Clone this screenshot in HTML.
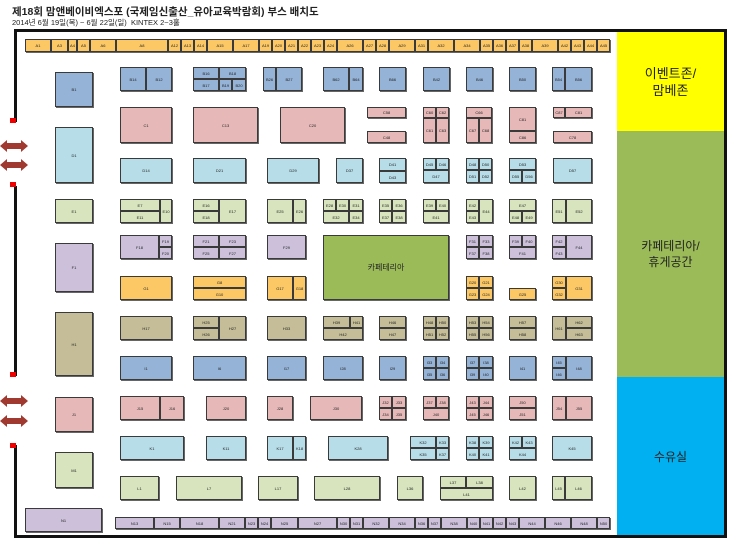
<!DOCTYPE html>
<html><head><meta charset="utf-8"><style>
body{margin:0;width:740px;height:548px;background:#fff;position:relative;overflow:hidden;font-family:"Liberation Sans","Noto Sans CJK KR",sans-serif}
div{position:absolute;box-sizing:border-box}
.b{border:1px solid #3a3a3a;box-shadow:1px 1px 0 #666;font-size:4px;line-height:5px;color:#222;display:flex;align-items:center;justify-content:center;text-align:center;overflow:hidden}
.bl{background:#95b3d7}.pk{background:#e6b9b8}.lb{background:#b7dde8}.lg{background:#d7e4bd}.lv{background:#ccc0da}.or{background:#fcc865}.kh{background:#c4bd97}
.ln{background:#111}.rd{background:#e00}
.ar{width:28px;height:13px}
</style></head><body>
<div style="left:12px;top:4px;font-size:10.5px;font-weight:bold;color:#222;white-space:nowrap">제18회 맘앤베이비엑스포 (국제임신출산_유아교육박람회) 부스 배치도</div>
<div style="left:12px;top:17px;font-size:7.5px;color:#222;white-space:nowrap">2014년 6월 19일(목) ~ 6월 22일(일) &nbsp;KINTEX 2~3홀</div>

<!-- frame -->
<div class="ln" style="left:14px;top:29px;width:712px;height:3px"></div>
<div class="ln" style="left:724px;top:29px;width:3px;height:509px"></div>
<div class="ln" style="left:14px;top:29px;width:3px;height:93px"></div>
<div class="rd" style="left:10px;top:118px;width:6px;height:5px"></div>
<div class="ln" style="left:14px;top:186px;width:3px;height:190px"></div>
<div class="rd" style="left:10px;top:182px;width:6px;height:5px"></div>
<div class="rd" style="left:10px;top:372px;width:6px;height:5px"></div>
<div class="ln" style="left:14px;top:445px;width:3px;height:93px"></div>
<div class="rd" style="left:10px;top:443px;width:6px;height:5px"></div>
<div class="ln" style="left:14px;top:535px;width:713px;height:3px"></div>
<svg style="position:absolute;left:0;top:0" width="30" height="548">
<g fill="#a0392f"><polygon points="0,146 7,140 7,143 21,143 21,140 28,146 21,152 21,149 7,149 7,152"/>
<polygon points="0,165 7,159 7,162 21,162 21,159 28,165 21,171 21,168 7,168 7,171"/>
<polygon points="0,401 7,395 7,398 21,398 21,395 28,401 21,407 21,404 7,404 7,407"/>
<polygon points="0,421 7,415 7,418 21,418 21,415 28,421 21,427 21,424 7,424 7,427"/></g></svg>

<!-- right zones -->
<div style="left:617px;top:32px;width:107px;height:99px;background:#ffff00;display:flex;align-items:center;justify-content:center;text-align:center;font-size:13px;line-height:17px;color:#222">이벤트존/<br>맘베존</div>
<div style="left:617px;top:131px;width:107px;height:246px;background:#9bbb59;display:flex;align-items:center;justify-content:center;text-align:center;font-size:12px;line-height:16px;color:#222">카페테리아/<br>휴게공간</div>
<div style="left:617px;top:377px;width:107px;height:158px;background:#00b0f0;display:flex;align-items:center;justify-content:center;font-size:12px;color:#222">수유실</div>

<!-- top A row -->
<div class="b or" style="left:25px;top:39px;width:26px;height:13px">A1</div>
<div class="b or" style="left:51px;top:39px;width:17px;height:13px">A3</div>
<div class="b or" style="left:68px;top:39px;width:9px;height:13px">A4</div>
<div class="b or" style="left:77px;top:39px;width:13px;height:13px">A5</div>
<div class="b or" style="left:90px;top:39px;width:26px;height:13px">A6</div>
<div class="b or" style="left:116px;top:39px;width:52px;height:13px">A8</div>
<div class="b or" style="left:168px;top:39px;width:13px;height:13px">A12</div>
<div class="b or" style="left:181px;top:39px;width:13px;height:13px">A13</div>
<div class="b or" style="left:194px;top:39px;width:13px;height:13px">A14</div>
<div class="b or" style="left:207px;top:39px;width:26px;height:13px">A15</div>
<div class="b or" style="left:233px;top:39px;width:26px;height:13px">A17</div>
<div class="b or" style="left:259px;top:39px;width:13px;height:13px">A19</div>
<div class="b or" style="left:272px;top:39px;width:13px;height:13px">A20</div>
<div class="b or" style="left:285px;top:39px;width:13px;height:13px">A21</div>
<div class="b or" style="left:298px;top:39px;width:13px;height:13px">A22</div>
<div class="b or" style="left:311px;top:39px;width:13px;height:13px">A23</div>
<div class="b or" style="left:324px;top:39px;width:13px;height:13px">A24</div>
<div class="b or" style="left:337px;top:39px;width:26px;height:13px">A26</div>
<div class="b or" style="left:363px;top:39px;width:13px;height:13px">A27</div>
<div class="b or" style="left:376px;top:39px;width:13px;height:13px">A28</div>
<div class="b or" style="left:389px;top:39px;width:26px;height:13px">A29</div>
<div class="b or" style="left:415px;top:39px;width:13px;height:13px">A31</div>
<div class="b or" style="left:428px;top:39px;width:26px;height:13px">A32</div>
<div class="b or" style="left:454px;top:39px;width:26px;height:13px">A34</div>
<div class="b or" style="left:480px;top:39px;width:13px;height:13px">A35</div>
<div class="b or" style="left:493px;top:39px;width:13px;height:13px">A36</div>
<div class="b or" style="left:506px;top:39px;width:13px;height:13px">A37</div>
<div class="b or" style="left:519px;top:39px;width:13px;height:13px">A38</div>
<div class="b or" style="left:532px;top:39px;width:26px;height:13px">A39</div>
<div class="b or" style="left:558px;top:39px;width:13px;height:13px">A42</div>
<div class="b or" style="left:571px;top:39px;width:13px;height:13px">A43</div>
<div class="b or" style="left:584px;top:39px;width:13px;height:13px">A44</div>
<div class="b or" style="left:597px;top:39px;width:13px;height:13px">A45</div>

<!-- left column -->
<div class="b bl" style="left:55px;top:72px;width:38px;height:35px">B1</div>
<div class="b lb" style="left:55px;top:127px;width:38px;height:56px">D1</div>
<div class="b lg" style="left:55px;top:199px;width:38px;height:24px">E1</div>
<div class="b lv" style="left:55px;top:243px;width:38px;height:49px">F1</div>
<div class="b kh" style="left:55px;top:312px;width:38px;height:64px">H1</div>
<div class="b pk" style="left:55px;top:397px;width:38px;height:35px">J1</div>
<div class="b lg" style="left:55px;top:452px;width:38px;height:36px">M1</div>
<div class="b lv" style="left:25px;top:508px;width:77px;height:24px">N1</div>

<!-- row B -->
<div class="b bl" style="left:120px;top:67px;width:26px;height:24px">B14</div>
<div class="b bl" style="left:146px;top:67px;width:26px;height:24px">B12</div>
<div class="b bl" style="left:193px;top:67px;width:26px;height:12px">B16</div>
<div class="b bl" style="left:219px;top:67px;width:27px;height:12px">B18</div>
<div class="b bl" style="left:193px;top:79px;width:26px;height:12px">B17</div>
<div class="b bl" style="left:219px;top:79px;width:13px;height:12px">B19</div>
<div class="b bl" style="left:232px;top:79px;width:14px;height:12px">B20</div>
<div class="b bl" style="left:263px;top:67px;width:13px;height:24px">B26</div>
<div class="b bl" style="left:276px;top:67px;width:26px;height:24px">B27</div>
<div class="b bl" style="left:323px;top:67px;width:26px;height:24px">B62</div>
<div class="b bl" style="left:349px;top:67px;width:14px;height:24px">B64</div>
<div class="b bl" style="left:379px;top:67px;width:27px;height:24px">B66</div>
<div class="b bl" style="left:423px;top:67px;width:27px;height:24px">B42</div>
<div class="b bl" style="left:466px;top:67px;width:27px;height:24px">B46</div>
<div class="b bl" style="left:509px;top:67px;width:27px;height:24px">B50</div>
<div class="b bl" style="left:552px;top:67px;width:13px;height:24px">B54</div>
<div class="b bl" style="left:565px;top:67px;width:27px;height:24px">B56</div>

<!-- row C -->
<div class="b pk" style="left:120px;top:107px;width:52px;height:36px">C1</div>
<div class="b pk" style="left:193px;top:107px;width:65px;height:36px">C13</div>
<div class="b pk" style="left:280px;top:107px;width:65px;height:36px">C20</div>
<div class="b pk" style="left:367px;top:107px;width:39px;height:11px">C58</div>
<div class="b pk" style="left:367px;top:131px;width:39px;height:12px">C48</div>
<div class="b pk" style="left:423px;top:107px;width:13px;height:11px">C60</div>
<div class="b pk" style="left:436px;top:107px;width:13px;height:11px">C62</div>
<div class="b pk" style="left:423px;top:118px;width:13px;height:25px">C61</div>
<div class="b pk" style="left:436px;top:118px;width:13px;height:25px">C63</div>
<div class="b pk" style="left:466px;top:107px;width:26px;height:11px">C66</div>
<div class="b pk" style="left:466px;top:118px;width:13px;height:25px">C67</div>
<div class="b pk" style="left:479px;top:118px;width:13px;height:25px">C68</div>
<div class="b pk" style="left:509px;top:107px;width:27px;height:24px">C81</div>
<div class="b pk" style="left:509px;top:131px;width:27px;height:12px">C86</div>
<div class="b pk" style="left:553px;top:107px;width:12px;height:11px">C87</div>
<div class="b pk" style="left:565px;top:107px;width:27px;height:11px">C81</div>
<div class="b pk" style="left:553px;top:131px;width:39px;height:12px">C78</div>

<!-- row D -->
<div class="b lb" style="left:120px;top:158px;width:52px;height:25px">D14</div>
<div class="b lb" style="left:193px;top:158px;width:53px;height:25px">D21</div>
<div class="b lb" style="left:267px;top:158px;width:52px;height:25px">D29</div>
<div class="b lb" style="left:336px;top:158px;width:27px;height:25px">D37</div>
<div class="b lb" style="left:379px;top:158px;width:27px;height:13px">D41</div>
<div class="b lb" style="left:379px;top:171px;width:27px;height:12px">D43</div>
<div class="b lb" style="left:423px;top:158px;width:13px;height:12px">D45</div>
<div class="b lb" style="left:436px;top:158px;width:13px;height:12px">D46</div>
<div class="b lb" style="left:423px;top:170px;width:26px;height:13px">D47</div>
<div class="b lb" style="left:466px;top:158px;width:13px;height:12px">D48</div>
<div class="b lb" style="left:479px;top:158px;width:13px;height:12px">D50</div>
<div class="b lb" style="left:466px;top:170px;width:13px;height:13px">D51</div>
<div class="b lb" style="left:479px;top:170px;width:13px;height:13px">D52</div>
<div class="b lb" style="left:509px;top:158px;width:27px;height:12px">D53</div>
<div class="b lb" style="left:509px;top:170px;width:13px;height:13px">D55</div>
<div class="b lb" style="left:522px;top:170px;width:14px;height:13px">D56</div>
<div class="b lb" style="left:553px;top:158px;width:39px;height:25px">D57</div>

<!-- row E -->
<div class="b lg" style="left:120px;top:199px;width:40px;height:12px">E7</div>
<div class="b lg" style="left:120px;top:211px;width:40px;height:12px">E11</div>
<div class="b lg" style="left:160px;top:199px;width:12px;height:24px">E10</div>
<div class="b lg" style="left:193px;top:199px;width:26px;height:12px">E16</div>
<div class="b lg" style="left:193px;top:211px;width:26px;height:12px">E18</div>
<div class="b lg" style="left:219px;top:199px;width:27px;height:24px">E17</div>
<div class="b lg" style="left:267px;top:199px;width:26px;height:24px">E25</div>
<div class="b lg" style="left:293px;top:199px;width:13px;height:24px">E26</div>
<div class="b lg" style="left:323px;top:199px;width:13px;height:12px">E28</div>
<div class="b lg" style="left:336px;top:199px;width:13px;height:12px">E30</div>
<div class="b lg" style="left:349px;top:199px;width:14px;height:12px">E31</div>
<div class="b lg" style="left:323px;top:211px;width:26px;height:12px">E32</div>
<div class="b lg" style="left:349px;top:211px;width:14px;height:12px">E34</div>
<div class="b lg" style="left:379px;top:199px;width:13px;height:12px">E35</div>
<div class="b lg" style="left:392px;top:199px;width:14px;height:12px">E36</div>
<div class="b lg" style="left:379px;top:211px;width:13px;height:12px">E37</div>
<div class="b lg" style="left:392px;top:211px;width:14px;height:12px">E38</div>
<div class="b lg" style="left:423px;top:199px;width:13px;height:12px">E39</div>
<div class="b lg" style="left:436px;top:199px;width:13px;height:12px">E40</div>
<div class="b lg" style="left:423px;top:211px;width:26px;height:12px">E41</div>
<div class="b lg" style="left:466px;top:199px;width:13px;height:12px">E42</div>
<div class="b lg" style="left:466px;top:211px;width:13px;height:12px">E43</div>
<div class="b lg" style="left:479px;top:199px;width:14px;height:24px">E44</div>
<div class="b lg" style="left:509px;top:199px;width:27px;height:12px">E47</div>
<div class="b lg" style="left:509px;top:211px;width:13px;height:12px">E48</div>
<div class="b lg" style="left:522px;top:211px;width:14px;height:12px">E49</div>
<div class="b lg" style="left:552px;top:199px;width:14px;height:24px">E51</div>
<div class="b lg" style="left:566px;top:199px;width:26px;height:24px">E52</div>

<!-- row F -->
<div class="b lv" style="left:120px;top:235px;width:39px;height:24px">F18</div>
<div class="b lv" style="left:159px;top:235px;width:13px;height:12px">F19</div>
<div class="b lv" style="left:159px;top:247px;width:13px;height:12px">F20</div>
<div class="b lv" style="left:193px;top:235px;width:26px;height:12px">F21</div>
<div class="b lv" style="left:219px;top:235px;width:27px;height:12px">F23</div>
<div class="b lv" style="left:193px;top:247px;width:26px;height:12px">F25</div>
<div class="b lv" style="left:219px;top:247px;width:27px;height:12px">F27</div>
<div class="b lv" style="left:267px;top:235px;width:39px;height:24px">F29</div>
<div style="left:323px;top:235px;width:126px;height:65px;background:#9bbb59;border:1px solid #3a3a3a;box-shadow:1px 1px 0 #666;display:flex;align-items:center;justify-content:center;font-size:8px;color:#222">카페테리아</div>
<div class="b lv" style="left:466px;top:235px;width:13px;height:12px">F31</div>
<div class="b lv" style="left:479px;top:235px;width:14px;height:12px">F33</div>
<div class="b lv" style="left:466px;top:247px;width:13px;height:12px">F37</div>
<div class="b lv" style="left:479px;top:247px;width:14px;height:12px">F38</div>
<div class="b lv" style="left:509px;top:235px;width:13px;height:12px">F39</div>
<div class="b lv" style="left:522px;top:235px;width:14px;height:12px">F40</div>
<div class="b lv" style="left:509px;top:247px;width:27px;height:12px">F41</div>
<div class="b lv" style="left:552px;top:235px;width:14px;height:12px">F42</div>
<div class="b lv" style="left:552px;top:247px;width:14px;height:12px">F43</div>
<div class="b lv" style="left:566px;top:235px;width:26px;height:24px">F44</div>

<!-- row G -->
<div class="b or" style="left:120px;top:276px;width:52px;height:24px">G1</div>
<div class="b or" style="left:193px;top:276px;width:53px;height:12px">G8</div>
<div class="b or" style="left:193px;top:288px;width:53px;height:12px">G10</div>
<div class="b or" style="left:267px;top:276px;width:26px;height:24px">G17</div>
<div class="b or" style="left:293px;top:276px;width:13px;height:24px">G18</div>
<div class="b or" style="left:466px;top:276px;width:13px;height:12px">G20</div>
<div class="b or" style="left:479px;top:276px;width:14px;height:12px">G21</div>
<div class="b or" style="left:466px;top:288px;width:13px;height:12px">G23</div>
<div class="b or" style="left:479px;top:288px;width:14px;height:12px">G24</div>
<div class="b or" style="left:509px;top:288px;width:27px;height:12px">G25</div>
<div class="b or" style="left:552px;top:276px;width:14px;height:12px">G30</div>
<div class="b or" style="left:552px;top:288px;width:14px;height:12px">G32</div>
<div class="b or" style="left:566px;top:276px;width:26px;height:24px">G31</div>

<!-- row H -->
<div class="b kh" style="left:120px;top:316px;width:52px;height:24px">H17</div>
<div class="b kh" style="left:193px;top:316px;width:26px;height:12px">H25</div>
<div class="b kh" style="left:193px;top:328px;width:26px;height:12px">H26</div>
<div class="b kh" style="left:219px;top:316px;width:27px;height:24px">H27</div>
<div class="b kh" style="left:267px;top:316px;width:39px;height:24px">H33</div>
<div class="b kh" style="left:323px;top:316px;width:27px;height:12px">H39</div>
<div class="b kh" style="left:350px;top:316px;width:13px;height:12px">H41</div>
<div class="b kh" style="left:323px;top:328px;width:40px;height:12px">H42</div>
<div class="b kh" style="left:379px;top:316px;width:27px;height:12px">H46</div>
<div class="b kh" style="left:379px;top:328px;width:27px;height:12px">H47</div>
<div class="b kh" style="left:423px;top:316px;width:13px;height:12px">H48</div>
<div class="b kh" style="left:436px;top:316px;width:13px;height:12px">H50</div>
<div class="b kh" style="left:423px;top:328px;width:13px;height:12px">H51</div>
<div class="b kh" style="left:436px;top:328px;width:13px;height:12px">H52</div>
<div class="b kh" style="left:466px;top:316px;width:13px;height:12px">H53</div>
<div class="b kh" style="left:479px;top:316px;width:14px;height:12px">H54</div>
<div class="b kh" style="left:466px;top:328px;width:13px;height:12px">H55</div>
<div class="b kh" style="left:479px;top:328px;width:14px;height:12px">H56</div>
<div class="b kh" style="left:509px;top:316px;width:27px;height:12px">H57</div>
<div class="b kh" style="left:509px;top:328px;width:27px;height:12px">H58</div>
<div class="b kh" style="left:552px;top:316px;width:14px;height:24px">H61</div>
<div class="b kh" style="left:566px;top:316px;width:26px;height:12px">H62</div>
<div class="b kh" style="left:566px;top:328px;width:26px;height:12px">H63</div>

<!-- row I -->
<div class="b bl" style="left:120px;top:356px;width:52px;height:24px">I1</div>
<div class="b bl" style="left:193px;top:356px;width:53px;height:24px">I6</div>
<div class="b bl" style="left:267px;top:356px;width:39px;height:24px">I17</div>
<div class="b bl" style="left:323px;top:356px;width:40px;height:24px">I28</div>
<div class="b bl" style="left:379px;top:356px;width:27px;height:24px">I29</div>
<div class="b bl" style="left:423px;top:356px;width:13px;height:12px">I33</div>
<div class="b bl" style="left:436px;top:356px;width:13px;height:12px">I34</div>
<div class="b bl" style="left:423px;top:368px;width:13px;height:12px">I35</div>
<div class="b bl" style="left:436px;top:368px;width:13px;height:12px">I36</div>
<div class="b bl" style="left:466px;top:356px;width:13px;height:12px">I37</div>
<div class="b bl" style="left:479px;top:356px;width:14px;height:12px">I38</div>
<div class="b bl" style="left:466px;top:368px;width:13px;height:12px">I39</div>
<div class="b bl" style="left:479px;top:368px;width:14px;height:12px">I40</div>
<div class="b bl" style="left:509px;top:356px;width:27px;height:24px">I41</div>
<div class="b bl" style="left:552px;top:356px;width:14px;height:12px">I45</div>
<div class="b bl" style="left:552px;top:368px;width:14px;height:12px">I46</div>
<div class="b bl" style="left:566px;top:356px;width:26px;height:24px">I48</div>

<!-- row J -->
<div class="b pk" style="left:120px;top:396px;width:40px;height:24px">J15</div>
<div class="b pk" style="left:160px;top:396px;width:24px;height:24px">J16</div>
<div class="b pk" style="left:206px;top:396px;width:40px;height:24px">J20</div>
<div class="b pk" style="left:267px;top:396px;width:26px;height:24px">J28</div>
<div class="b pk" style="left:310px;top:396px;width:52px;height:24px">J30</div>
<div class="b pk" style="left:379px;top:396px;width:13px;height:12px">J32</div>
<div class="b pk" style="left:392px;top:396px;width:14px;height:12px">J33</div>
<div class="b pk" style="left:379px;top:408px;width:13px;height:12px">J34</div>
<div class="b pk" style="left:392px;top:408px;width:14px;height:12px">J35</div>
<div class="b pk" style="left:423px;top:396px;width:13px;height:12px">J37</div>
<div class="b pk" style="left:436px;top:396px;width:13px;height:12px">J38</div>
<div class="b pk" style="left:423px;top:408px;width:26px;height:12px">J40</div>
<div class="b pk" style="left:466px;top:396px;width:13px;height:12px">J43</div>
<div class="b pk" style="left:479px;top:396px;width:14px;height:12px">J44</div>
<div class="b pk" style="left:466px;top:408px;width:13px;height:12px">J45</div>
<div class="b pk" style="left:479px;top:408px;width:14px;height:12px">J46</div>
<div class="b pk" style="left:509px;top:396px;width:27px;height:12px">J50</div>
<div class="b pk" style="left:509px;top:408px;width:27px;height:12px">J51</div>
<div class="b pk" style="left:552px;top:396px;width:14px;height:24px">J54</div>
<div class="b pk" style="left:566px;top:396px;width:26px;height:24px">J55</div>

<!-- row K -->
<div class="b lb" style="left:120px;top:436px;width:64px;height:24px">K1</div>
<div class="b lb" style="left:206px;top:436px;width:40px;height:24px">K11</div>
<div class="b lb" style="left:267px;top:436px;width:26px;height:24px">K17</div>
<div class="b lb" style="left:293px;top:436px;width:13px;height:24px">K18</div>
<div class="b lb" style="left:328px;top:436px;width:60px;height:24px">K28</div>
<div class="b lb" style="left:410px;top:436px;width:26px;height:12px">K32</div>
<div class="b lb" style="left:436px;top:436px;width:13px;height:12px">K33</div>
<div class="b lb" style="left:410px;top:448px;width:26px;height:12px">K35</div>
<div class="b lb" style="left:436px;top:448px;width:13px;height:12px">K37</div>
<div class="b lb" style="left:466px;top:436px;width:13px;height:12px">K38</div>
<div class="b lb" style="left:479px;top:436px;width:14px;height:12px">K39</div>
<div class="b lb" style="left:466px;top:448px;width:13px;height:12px">K40</div>
<div class="b lb" style="left:479px;top:448px;width:14px;height:12px">K41</div>
<div class="b lb" style="left:509px;top:436px;width:13px;height:12px">K42</div>
<div class="b lb" style="left:522px;top:436px;width:14px;height:12px">K43</div>
<div class="b lb" style="left:509px;top:448px;width:27px;height:12px">K44</div>
<div class="b lb" style="left:552px;top:436px;width:40px;height:24px">K45</div>

<!-- row L -->
<div class="b lg" style="left:120px;top:476px;width:39px;height:24px">L1</div>
<div class="b lg" style="left:176px;top:476px;width:66px;height:24px">L7</div>
<div class="b lg" style="left:258px;top:476px;width:40px;height:24px">L17</div>
<div class="b lg" style="left:314px;top:476px;width:66px;height:24px">L28</div>
<div class="b lg" style="left:397px;top:476px;width:26px;height:24px">L36</div>
<div class="b lg" style="left:440px;top:476px;width:26px;height:12px">L37</div>
<div class="b lg" style="left:466px;top:476px;width:27px;height:12px">L38</div>
<div class="b lg" style="left:440px;top:488px;width:53px;height:12px">L41</div>
<div class="b lg" style="left:509px;top:476px;width:27px;height:24px">L42</div>
<div class="b lg" style="left:552px;top:476px;width:13px;height:24px">L45</div>
<div class="b lg" style="left:565px;top:476px;width:27px;height:24px">L46</div>

<!-- bottom row -->
<div class="b lv" style="left:115px;top:517px;width:39px;height:12px">N13</div>
<div class="b lv" style="left:154px;top:517px;width:26px;height:12px">N15</div>
<div class="b lv" style="left:180px;top:517px;width:39px;height:12px">N18</div>
<div class="b lv" style="left:219px;top:517px;width:26px;height:12px">N21</div>
<div class="b lv" style="left:245px;top:517px;width:13px;height:12px">N23</div>
<div class="b lv" style="left:258px;top:517px;width:13px;height:12px">N24</div>
<div class="b lv" style="left:271px;top:517px;width:27px;height:12px">N25</div>
<div class="b lv" style="left:298px;top:517px;width:39px;height:12px">N27</div>
<div class="b lv" style="left:337px;top:517px;width:13px;height:12px">N30</div>
<div class="b lv" style="left:350px;top:517px;width:13px;height:12px">N31</div>
<div class="b lv" style="left:363px;top:517px;width:26px;height:12px">N32</div>
<div class="b lv" style="left:389px;top:517px;width:26px;height:12px">N34</div>
<div class="b lv" style="left:415px;top:517px;width:13px;height:12px">N36</div>
<div class="b lv" style="left:428px;top:517px;width:13px;height:12px">N37</div>
<div class="b lv" style="left:441px;top:517px;width:26px;height:12px">N38</div>
<div class="b lv" style="left:467px;top:517px;width:13px;height:12px">N40</div>
<div class="b lv" style="left:480px;top:517px;width:13px;height:12px">N41</div>
<div class="b lv" style="left:493px;top:517px;width:13px;height:12px">N42</div>
<div class="b lv" style="left:506px;top:517px;width:13px;height:12px">N43</div>
<div class="b lv" style="left:519px;top:517px;width:26px;height:12px">N44</div>
<div class="b lv" style="left:545px;top:517px;width:26px;height:12px">N46</div>
<div class="b lv" style="left:571px;top:517px;width:26px;height:12px">N48</div>
<div class="b lv" style="left:597px;top:517px;width:13px;height:12px">N50</div>
</body></html>
